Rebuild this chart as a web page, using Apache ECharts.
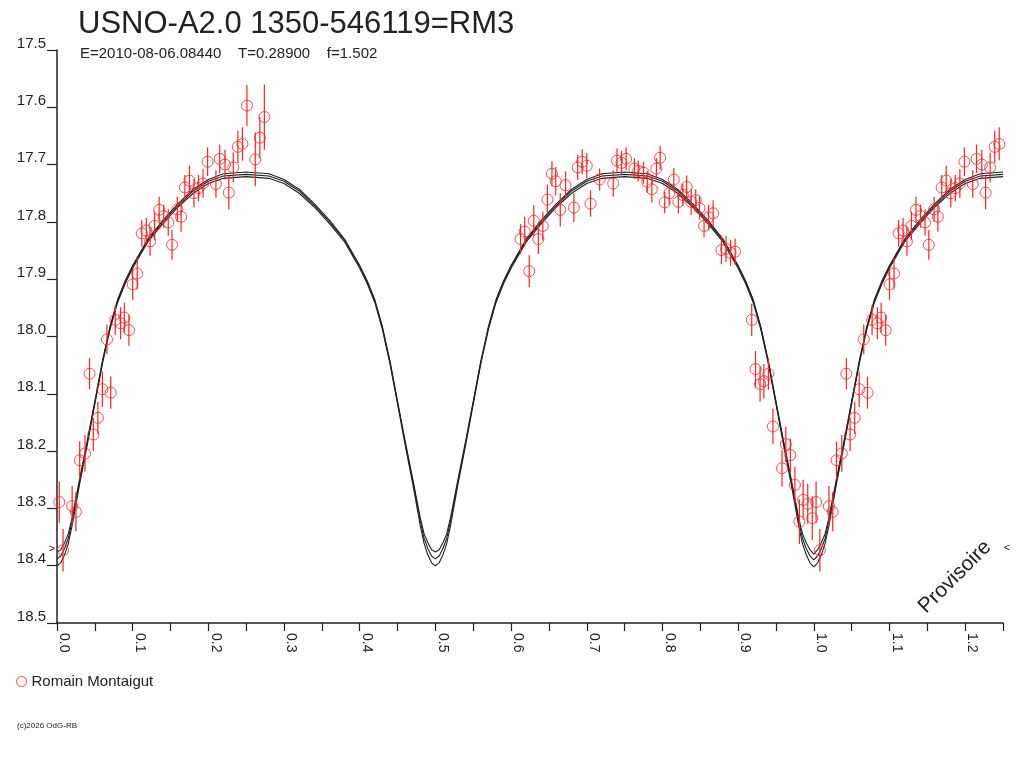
<!DOCTYPE html>
<html>
<head>
<meta charset="utf-8">
<title>USNO-A2.0 1350-546119=RM3</title>
<script src="https://cdn.jsdelivr.net/npm/echarts@6/dist/echarts.min.js"></script>
<style>
  html, body { margin: 0; padding: 0; background: #fff; }
  #chart { width: 1024px; height: 768px; }
</style>
</head>
<body>
<div id="chart"></div>
<script>
// observations: phase, magnitude, error (first part 0.0-0.27)
var phaseA = [0.003, 0.008, 0.020, 0.025, 0.030, 0.037, 0.043, 0.048, 0.054, 0.060,
  0.066, 0.071, 0.077, 0.084, 0.089, 0.095, 0.100, 0.106, 0.112, 0.118,
  0.123, 0.129, 0.135, 0.141, 0.147, 0.152, 0.159, 0.164, 0.169, 0.175,
  0.181, 0.187, 0.193, 0.199, 0.210, 0.215, 0.222, 0.227, 0.233, 0.239,
  0.245, 0.251, 0.262, 0.268, 0.274];
var magA = [18.289, 18.373, 18.296, 18.306, 18.216, 18.204, 18.065, 18.171, 18.142, 18.092,
  18.005, 18.098, 17.971, 17.977, 17.967, 17.989, 17.909, 17.890, 17.820, 17.815,
  17.834, 17.807, 17.779, 17.790, 17.801, 17.840, 17.778, 17.791, 17.740, 17.728,
  17.750, 17.741, 17.733, 17.695, 17.734, 17.690, 17.700, 17.749, 17.705, 17.669,
  17.664, 17.597, 17.691, 17.653, 17.617];
var errA = [0.036, 0.037, 0.035, 0.034, 0.033, 0.032, 0.027, 0.029, 0.028, 0.031,
  0.026, 0.028, 0.026, 0.028, 0.026, 0.027, 0.027, 0.028, 0.023, 0.022,
  0.025, 0.025, 0.023, 0.020, 0.023, 0.026, 0.022, 0.026, 0.022, 0.026,
  0.025, 0.023, 0.025, 0.025, 0.024, 0.025, 0.026, 0.029, 0.026, 0.028,
  0.029, 0.036, 0.047, 0.036, 0.057];

// second part 0.61-1.0
var phaseB = [0.6125, 0.618, 0.624, 0.630, 0.636, 0.642, 0.648, 0.654, 0.659, 0.665,
  0.672, 0.683, 0.688, 0.694, 0.700, 0.705, 0.717, 0.735, 0.740, 0.746,
  0.752, 0.763, 0.768, 0.775, 0.780, 0.786, 0.792, 0.797, 0.803, 0.809,
  0.815, 0.821, 0.827, 0.832, 0.838, 0.844, 0.849, 0.855, 0.861, 0.867,
  0.878, 0.884, 0.890, 0.896, 0.918, 0.923, 0.929, 0.934, 0.940, 0.946,
  0.958, 0.963, 0.969, 0.975, 0.981, 0.986, 0.992, 0.998];
var magB = [17.830, 17.817, 17.886, 17.798, 17.830, 17.807, 17.761, 17.716, 17.729, 17.779,
  17.736, 17.775, 17.705, 17.695, 17.702, 17.768, 17.726, 17.733, 17.693, 17.697,
  17.690, 17.707, 17.711, 17.714, 17.730, 17.743, 17.707, 17.688, 17.766, 17.750,
  17.726, 17.765, 17.753, 17.739, 17.765, 17.762, 17.776, 17.807, 17.792, 17.785,
  17.849, 17.847, 17.854, 17.852, 17.971, 18.057, 18.083, 18.078, 18.065, 18.157,
  18.230, 18.188, 18.207, 18.259, 18.323, 18.285, 18.292, 18.317];
var errB = [0.026, 0.026, 0.028, 0.027, 0.026, 0.025, 0.026, 0.022, 0.025, 0.029,
  0.024, 0.025, 0.022, 0.022, 0.022, 0.023, 0.019, 0.023, 0.021, 0.021,
  0.020, 0.018, 0.018, 0.019, 0.019, 0.023, 0.018, 0.021, 0.019, 0.020,
  0.020, 0.020, 0.019, 0.020, 0.023, 0.019, 0.020, 0.020, 0.022, 0.023,
  0.025, 0.023, 0.023, 0.023, 0.028, 0.032, 0.031, 0.030, 0.028, 0.031,
  0.032, 0.031, 0.029, 0.032, 0.039, 0.035, 0.035, 0.038];

// model light curves (three fits)
var modelPhase = [0, 0.005, 0.01, 0.015, 0.02, 0.03, 0.04, 0.05, 0.06, 0.07, 0.08, 0.09, 0.1, 0.12, 0.14, 0.16, 0.18, 0.2, 0.22, 0.25,
  0.28, 0.3, 0.32, 0.34, 0.36, 0.38, 0.4, 0.41, 0.42, 0.43, 0.44, 0.45, 0.46, 0.47, 0.48, 0.485, 0.49, 0.495, 0.5,
  0.505, 0.51, 0.515, 0.52, 0.53, 0.54, 0.55, 0.56, 0.57, 0.58, 0.59, 0.6, 0.62, 0.64, 0.66, 0.68, 0.7, 0.72, 0.75,
  0.78, 0.8, 0.82, 0.84, 0.86, 0.88, 0.9, 0.91, 0.92, 0.93, 0.94, 0.95, 0.96, 0.97, 0.98, 0.985, 0.99, 0.995, 1.0,
  1.005, 1.01, 1.015, 1.02, 1.03, 1.04, 1.05, 1.06, 1.07, 1.08, 1.09, 1.1, 1.12, 1.14, 1.16, 1.18, 1.2, 1.22, 1.25];
var modelMid = [18.388, 18.383, 18.370, 18.352, 18.322, 18.252, 18.185, 18.115, 18.045, 17.985, 17.938, 17.905, 17.878, 17.832, 17.800, 17.771, 17.746, 17.729, 17.720, 17.717,
  17.720, 17.729, 17.746, 17.771, 17.800, 17.832, 17.878, 17.905, 17.938, 17.985, 18.045, 18.115, 18.185, 18.252, 18.322, 18.352, 18.370, 18.383, 18.388,
  18.383, 18.370, 18.352, 18.322, 18.252, 18.185, 18.115, 18.045, 17.985, 17.938, 17.905, 17.878, 17.832, 17.800, 17.771, 17.746, 17.729, 17.720, 17.717,
  17.720, 17.729, 17.746, 17.771, 17.800, 17.832, 17.878, 17.905, 17.938, 17.985, 18.045, 18.115, 18.185, 18.252, 18.322, 18.352, 18.370, 18.383, 18.390,
  18.383, 18.370, 18.352, 18.322, 18.252, 18.185, 18.115, 18.045, 17.985, 17.938, 17.905, 17.878, 17.832, 17.800, 17.771, 17.746, 17.729, 17.720, 17.717];
var modelTop = [18.376, 18.372, 18.360, 18.344, 18.316, 18.248, 18.182, 18.113, 18.043, 17.983, 17.936, 17.903, 17.876, 17.830, 17.797, 17.768, 17.743, 17.726, 17.716, 17.713,
  17.716, 17.726, 17.743, 17.768, 17.797, 17.830, 17.876, 17.903, 17.936, 17.983, 18.043, 18.113, 18.182, 18.248, 18.316, 18.344, 18.360, 18.372, 18.376,
  18.372, 18.360, 18.344, 18.316, 18.248, 18.182, 18.113, 18.043, 17.983, 17.936, 17.903, 17.876, 17.830, 17.797, 17.768, 17.743, 17.726, 17.716, 17.713,
  17.716, 17.726, 17.743, 17.768, 17.797, 17.830, 17.876, 17.903, 17.936, 17.983, 18.043, 18.113, 18.182, 18.248, 18.316, 18.344, 18.360, 18.372, 18.380,
  18.372, 18.360, 18.344, 18.316, 18.248, 18.182, 18.113, 18.043, 17.983, 17.936, 17.903, 17.876, 17.830, 17.797, 17.768, 17.743, 17.726, 17.716, 17.713];
var modelLow = [18.400, 18.395, 18.381, 18.361, 18.330, 18.257, 18.189, 18.118, 18.048, 17.988, 17.941, 17.908, 17.881, 17.835, 17.803, 17.774, 17.750, 17.733, 17.724, 17.721,
  17.724, 17.733, 17.750, 17.774, 17.803, 17.835, 17.881, 17.908, 17.941, 17.988, 18.048, 18.118, 18.189, 18.257, 18.330, 18.361, 18.381, 18.395, 18.400,
  18.395, 18.381, 18.361, 18.330, 18.257, 18.189, 18.118, 18.048, 17.988, 17.941, 17.908, 17.881, 17.835, 17.803, 17.774, 17.750, 17.733, 17.724, 17.721,
  17.724, 17.733, 17.750, 17.774, 17.803, 17.835, 17.881, 17.908, 17.941, 17.988, 18.048, 18.118, 18.189, 18.257, 18.330, 18.361, 18.381, 18.395, 18.402,
  18.395, 18.381, 18.361, 18.330, 18.257, 18.189, 18.118, 18.048, 17.988, 17.941, 17.908, 17.881, 17.835, 17.803, 17.774, 17.750, 17.733, 17.724, 17.721];

var FONT = '"Liberation Sans", Arial, sans-serif';
var RED = '#f22';
var INK = '#222';

// fold the observations onto the 0 - 1.25 phase window
var obs = [];
function addObs(ph, mg, er) {
  for (var i = 0; i < ph.length; i++) {
    [0, 1].forEach(function (k) {
      var p = ph[i] + k;
      if (p >= 0 && p <= 1.25) obs.push([p, mg[i], er[i]]);
    });
  }
}
addObs(phaseA, magA, errA);
addObs(phaseB, magB, errB);

var points = obs.map(function (o) { return [o[0], o[1]]; });
var bars = obs.map(function (o) { return [o[0], o[1] - o[2], o[1] + o[2]]; });

function curve(mags) {
  return modelPhase.map(function (p, i) { return [p, mags[i]]; });
}

function modelSeries(name, mags) {
  return {
    name: name,
    type: 'line',
    data: curve(mags),
    showSymbol: false,
    smooth: false,
    lineStyle: { color: INK, width: 1.1 },
    silent: true,
    z: 2
  };
}

var dom = echarts.init(document.getElementById('chart'));

var option = {
  animation: false,
  backgroundColor: '#fff',
  title: [
    {
      text: 'USNO-A2.0 1350-546119=RM3',
      left: 73, top: 4,
      textStyle: { fontFamily: FONT, fontSize: 31, fontWeight: 'normal', color: INK }
    },
    {
      text: 'E=2010-08-06.08440    T=0.28900    f=1.502',
      left: 75, top: 41,
      textStyle: { fontFamily: FONT, fontSize: 15, fontWeight: 'normal', color: INK }
    }
  ],
  legend: {
    data: ['Romain Montaigut'],
    left: 16, top: 674,
    padding: 0,
    icon: 'circle',
    itemWidth: 10, itemHeight: 10,
    itemGap: 10,
    itemStyle: { color: 'rgba(0,0,0,0)', borderColor: RED, borderWidth: 1 },
    textStyle: { fontFamily: FONT, fontSize: 15, color: INK }
  },
  grid: { left: 57, right: 21, top: 50, bottom: 145, containLabel: false },
  xAxis: {
    type: 'value',
    min: 0, max: 1.25, interval: 0.1,
    axisLine: { lineStyle: { color: INK, width: 1.5 } },
    axisTick: { length: 8, lineStyle: { color: INK, width: 1.2 } },
    minorTick: { show: true, splitNumber: 2, length: 8, lineStyle: { color: INK, width: 1.2 } },
    splitLine: { show: false },
    axisLabel: {
      rotate: -90, margin: 10,
      verticalAlign: 'bottom',
      fontFamily: FONT, fontSize: 14, color: INK,
      formatter: function (v) {
        var r = Math.round(v * 10) / 10;
        return Math.abs(r - v) < 1e-6 ? r.toFixed(1) : '';
      }
    }
  },
  yAxis: {
    type: 'value',
    inverse: true,
    min: 17.5, max: 18.5, interval: 0.1,
    axisLine: { show: true, lineStyle: { color: INK, width: 1.5 } },
    axisTick: { show: true, length: 10, lineStyle: { color: INK, width: 1.2 } },
    splitLine: { show: false },
    axisLabel: {
      margin: 11,
      verticalAlign: 'bottom',
      padding: [0, 0, -1, 0],
      fontFamily: FONT, fontSize: 15, color: INK,
      formatter: function (v) { return v.toFixed(1); }
    }
  },
  series: [
    modelSeries('fit 1', modelTop),
    modelSeries('fit 2', modelMid),
    modelSeries('fit 3', modelLow),
    {
      name: 'errors',
      type: 'custom',
      data: bars,
      clip: true,
      silent: true,
      z: 3,
      renderItem: function (params, api) {
        var a = api.coord([api.value(0), api.value(1)]);
        var b = api.coord([api.value(0), api.value(2)]);
        return {
          type: 'line',
          shape: { x1: a[0], y1: a[1], x2: b[0], y2: b[1] },
          style: { stroke: RED, lineWidth: 1.2 }
        };
      }
    },
    {
      name: 'Romain Montaigut',
      type: 'scatter',
      data: points,
      symbol: 'circle',
      symbolSize: 11,
      itemStyle: { color: 'rgba(0,0,0,0)', borderColor: RED, borderWidth: 1 },
      z: 4
    }
  ],
  graphic: [
    {
      type: 'text', x: 955, y: 577, rotation: Math.PI / 4,
      style: { text: 'Provisoire', fontFamily: FONT, fontSize: 21, fill: INK, align: 'center', verticalAlign: 'middle' }
    },
    {
      type: 'text', x: 52, y: 549,
      style: { text: '>', fontFamily: FONT, fontSize: 11, fill: INK, align: 'center', verticalAlign: 'middle' }
    },
    {
      type: 'text', x: 1007, y: 548,
      style: { text: '<', fontFamily: FONT, fontSize: 11, fill: INK, align: 'center', verticalAlign: 'middle' }
    },
    {
      type: 'text', x: 17, y: 726,
      style: { text: '(c)2026 OdG-RB', fontFamily: FONT, fontSize: 8, fill: INK, verticalAlign: 'middle' }
    }
  ]
};

dom.setOption(option);
</script>
</body>
</html>
